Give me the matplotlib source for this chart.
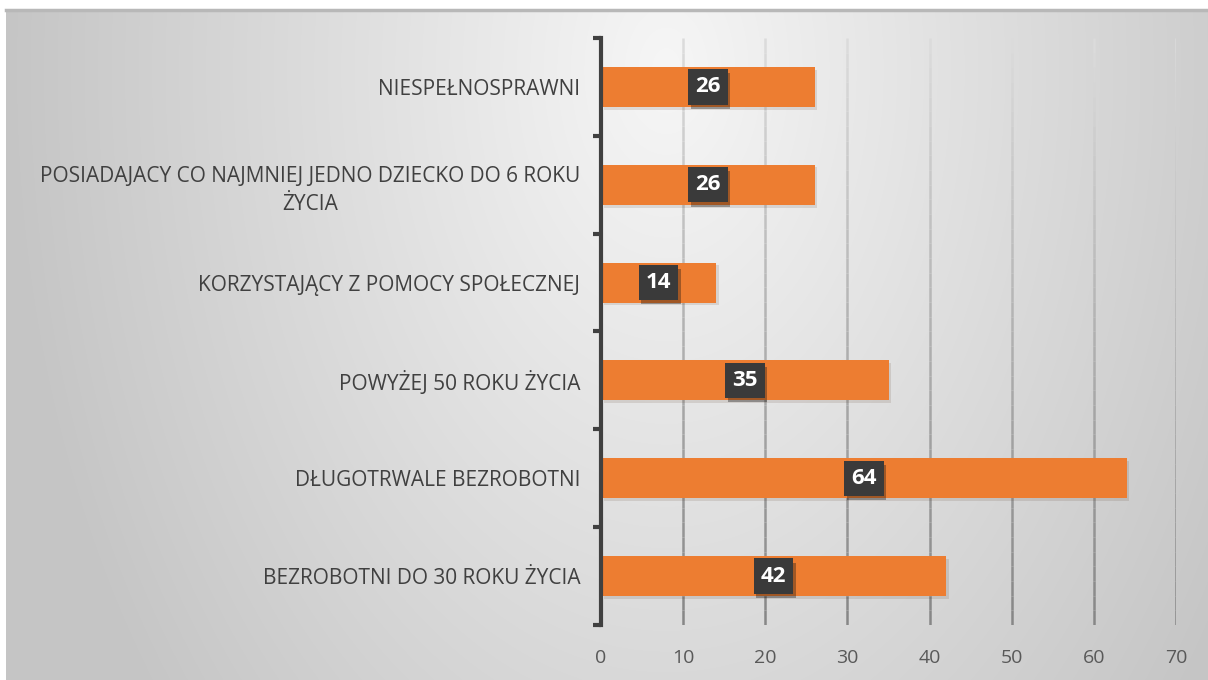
import numpy as np
import matplotlib.pyplot as plt
import matplotlib.patheffects as pe
from matplotlib.collections import LineCollection

categories = [
    "BEZROBOTNI DO 30 ROKU ŻYCIA",
    "DŁUGOTRWALE BEZROBOTNI",
    "POWYŻEJ 50 ROKU ŻYCIA",
    "KORZYSTAJĄCY Z POMOCY SPOŁECZNEJ",
    "POSIADAJACY CO NAJMNIEJ JEDNO DZIECKO DO 6 ROKU\nŻYCIA",
    "NIESPEŁNOSPRAWNI",
]
values = [42, 64, 35, 14, 26, 26]
xticks = [0, 10, 20, 30, 40, 50, 60, 70]

plt.rcParams['font.family'] = ['Open Sans', 'DejaVu Sans']

fig = plt.figure(figsize=(12.08, 6.8), dpi=100)

# background gradient panel
bg = fig.add_axes([6 / 1208, 0, 1 - 6 / 1208, 1 - 10 / 680], zorder=-10)
H, W = 670, 1202
yy, xx = np.mgrid[0:H, 0:W]
d = np.sqrt(((xx - 660) / 620.0) ** 2 + ((yy - 60) / 950.0) ** 2)
b = 0.965 - 0.18 * np.clip(d, 0, 1.05)
bg.imshow(np.dstack([b, b, b]), aspect='auto', interpolation='bilinear')
bg.set_axis_off()
fig.add_artist(plt.Line2D([6 / 1208, 1], [1 - 10 / 680] * 2, color='#b8b8b8', lw=2.5))

ax = fig.add_axes([601 / 1208, 1 - 625 / 680, (1176 - 601) / 1208, (625 - 38) / 680])
ax.patch.set_alpha(0)

ypos = np.arange(len(categories))
bars = ax.barh(ypos, values, height=0.41, color='#ED7D31', zorder=3)
for bar in bars:
    bar.set_path_effects([pe.SimplePatchShadow(offset=(2, -2), alpha=0.12), pe.Normal()])

ax.set_xlim(0, 70)
ax.set_ylim(-0.5, len(categories) - 0.5)
ax.set_xticks(xticks)
ax.set_yticks(ypos)
ax.set_yticklabels(categories, fontsize=15, color='#404040', ha='right')
for lab in ax.get_yticklabels():
    lab.set_multialignment('center')
    lab.set_linespacing(1.45)
ax.tick_params(axis='y', which='major', length=0, pad=15)
ax.set_yticks(np.arange(-0.5, len(categories)), minor=True)
ax.tick_params(axis='y', which='minor', length=6, width=3, color='#404040', direction='out')
ax.tick_params(axis='x', length=0, labelsize=14, labelcolor='#595959', pad=17)

for s in ['top', 'right', 'bottom']:
    ax.spines[s].set_visible(False)
ax.spines['left'].set_color('#404040')
ax.spines['left'].set_linewidth(3)
ax.spines['left'].set_zorder(5)

# vertical gridlines fading toward the top
n = 40
segs, cols = [], []
for xv in xticks[1:]:
    for i in range(n):
        y0 = -0.5 + i * 6 / n
        y1 = -0.5 + (i + 1) * 6 / n
        segs.append([(xv, y0), (xv, y1)])
        t = i / (n - 1)
        c = 0.53 + (0.86 - 0.53) * t
        cols.append((c, c, c))
ax.add_collection(LineCollection(segs, colors=cols, linewidths=1.8, zorder=1))

for y, v in zip(ypos, values):
    t = ax.text(v / 2, y, str(v), ha='center', va='center', color='white',
                fontsize=16, fontweight='bold', zorder=6,
                bbox=dict(boxstyle='square,pad=0.32', facecolor='#3a3a3a', edgecolor='none'))
    t.get_bbox_patch().set_path_effects([pe.SimplePatchShadow(offset=(2, -3), alpha=0.35), pe.Normal()])

fig.savefig('out.png', dpi=100)
